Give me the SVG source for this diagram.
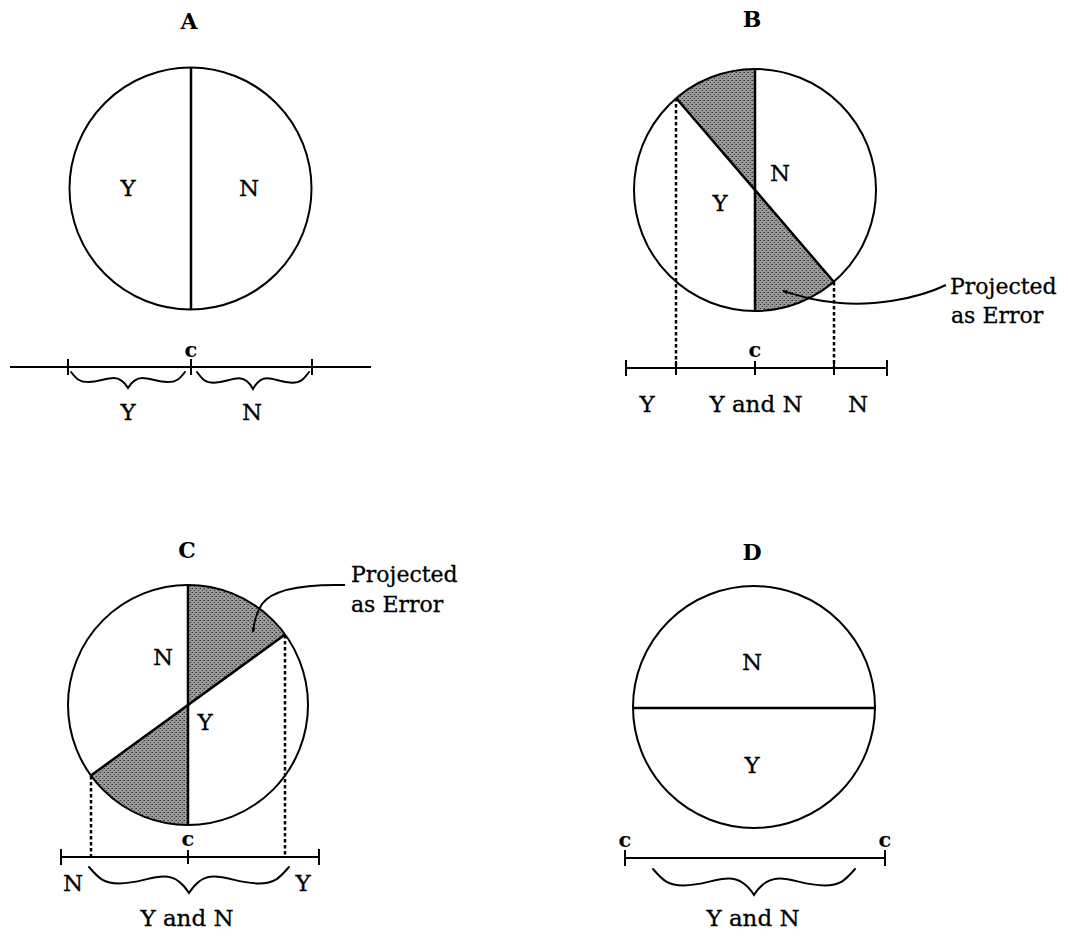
<svg xmlns="http://www.w3.org/2000/svg" width="1068" height="937" viewBox="0 0 1068 937">
<style>
  .ln { fill: none; stroke: #000; stroke-width: 2; }
  .div { fill: none; stroke: #000; stroke-width: 2.5; }
  .dash { fill: none; stroke: #000; stroke-width: 2.5; stroke-dasharray: 3.5 2.5; }
  .brace { fill: none; stroke: #000; stroke-width: 2; stroke-linecap: round; }
  .shade { fill: url(#stip); stroke: none; }
  .lbl { font-family: "DejaVu Serif", "Liberation Serif", serif; font-size: 23px; fill: #000; stroke: #000; stroke-width: 0.3; text-anchor: middle; }
  .ttl { font-family: "DejaVu Serif", "Liberation Serif", serif; font-size: 22px; font-weight: bold; fill: #000; text-anchor: middle; }
  .cc { font-family: "DejaVu Serif", "Liberation Serif", serif; font-size: 21px; font-weight: bold; fill: #000; text-anchor: middle; }
  .call { font-family: "DejaVu Serif", "Liberation Serif", serif; font-size: 22px; fill: #000; stroke: #000; stroke-width: 0.3; text-anchor: start; }
</style>
<defs>
  <pattern id="stip" width="4" height="4" patternUnits="userSpaceOnUse">
    <rect width="4" height="4" fill="#9a9a9a"/>
    <rect x="0" y="0" width="1" height="1" fill="#333"/>
    <rect x="2" y="2" width="1" height="1" fill="#333"/>
    <rect x="3" y="0" width="1" height="1" fill="#666"/>
  </pattern>
  <marker id="arr" viewBox="0 0 10 10" refX="9" refY="5" markerWidth="8" markerHeight="5" markerUnits="userSpaceOnUse" orient="auto">
    <path d="M0,1 L10,5 L0,9 Z" fill="#000"/>
  </marker>
</defs>
<rect width="1068" height="937" fill="#fff"/>

<g id="panel-A">
  <text class="ttl" x="189" y="29">A</text>
  <circle class="ln" cx="190.5" cy="188.5" r="121"/>
  <line class="div" x1="191" y1="67.5" x2="191" y2="309.5"/>
  <text class="lbl" x="128" y="196">Y</text>
  <text class="lbl" x="249" y="196">N</text>
  <line class="ln" x1="10" y1="367" x2="371" y2="367"/>
  <line class="ln" x1="68" y1="359" x2="68" y2="375"/>
  <line class="ln" x1="191" y1="359" x2="191" y2="375"/>
  <line class="ln" x1="312" y1="359" x2="312" y2="375"/>
  <text class="cc" x="191" y="357">c</text>
  <path class="brace" d="M71,372 C76.7,379.2 79.6,382.1 88.1,382.1 C99.5,382.1 105.2,377.9 113.8,377.9 C121.2,377.9 125.2,383.2 128,388 C130.8,383.2 134.8,377.9 142.3,377.9 C150.8,377.9 156.5,382.1 167.9,382.1 C176.5,382.1 179.3,379.2 185,372"/>
  <path class="brace" d="M197,372 C202.6,379.7 205.4,382.7 213.8,382.7 C225,382.7 230.6,378.3 239,378.3 C246.3,378.3 250.2,383.9 253,389 C255.8,383.9 259.7,378.3 267,378.3 C275.4,378.3 281,382.7 292.2,382.7 C300.6,382.7 303.4,379.7 309,372"/>
  <text class="lbl" x="128" y="420">Y</text>
  <text class="lbl" x="252" y="420">N</text>
</g>

<g id="panel-B">
  <text class="ttl" x="752" y="27">B</text>
  <path class="shade" d="M755,190 L676.3,98.2 A121,121 0 0,1 755,69 Z"/>
  <path class="shade" d="M755,190 L755,311 A121,121 0 0,0 833.7,281.8 Z"/>
  <circle class="ln" cx="755" cy="190" r="121"/>
  <line class="div" x1="755" y1="69" x2="755" y2="311"/>
  <line class="div" x1="676.3" y1="98.2" x2="833.7" y2="281.8"/>
  <text class="lbl" x="780" y="181">N</text>
  <text class="lbl" x="720" y="211">Y</text>
  <line class="ln" x1="626" y1="368" x2="887" y2="368"/>
  <line class="ln" x1="626" y1="360" x2="626" y2="376"/>
  <line class="ln" x1="676" y1="361" x2="676" y2="375"/>
  <line class="ln" x1="755" y1="361" x2="755" y2="375"/>
  <line class="ln" x1="834" y1="361" x2="834" y2="375"/>
  <line class="ln" x1="887" y1="360" x2="887" y2="376"/>
  <text class="cc" x="755" y="357">c</text>
  <text class="lbl" x="647" y="412">Y</text>
  <text class="lbl" x="756" y="412">Y and N</text>
  <text class="lbl" x="858" y="412">N</text>
  <text class="call" x="950" y="294">Projected</text>
  <text class="call" x="951" y="323">as Error</text>
</g>

<g id="panel-C">
  <text class="ttl" x="187" y="558">C</text>
  <path class="shade" d="M188,705 L188,585 A120,120 0 0,1 285.1,634.5 Z"/>
  <path class="shade" d="M188,705 L188,825 A120,120 0 0,1 90.9,775.5 Z"/>
  <circle class="ln" cx="188" cy="705" r="120"/>
  <line class="div" x1="188" y1="585" x2="188" y2="825"/>
  <line class="div" x1="90.9" y1="775.5" x2="285.1" y2="634.5"/>
  <text class="lbl" x="163" y="665">N</text>
  <text class="lbl" x="205" y="730">Y</text>
  <line class="ln" x1="61" y1="857" x2="319" y2="857"/>
  <line class="ln" x1="61" y1="849" x2="61" y2="865"/>
  <line class="ln" x1="188" y1="850" x2="188" y2="864"/>
  <line class="ln" x1="319" y1="849" x2="319" y2="865"/>
  <text class="cc" x="188" y="846">c</text>
  <path class="brace" d="M89,867 C99,878.7 104,883.4 119,883.4 C139,883.4 149,876.6 164,876.6 C177,876.6 184,885.2 189,893 C194,885.2 201,876.6 214,876.6 C229,876.6 239,883.4 259,883.4 C274,883.4 279,878.7 289,867"/>
  <text class="lbl" x="73" y="891">N</text>
  <text class="lbl" x="303" y="891">Y</text>
  <text class="lbl" x="187" y="926">Y and N</text>
  <text class="call" x="351" y="582">Projected</text>
  <text class="call" x="351" y="612">as Error</text>
</g>

<g id="panel-D">
  <text class="ttl" x="752" y="560">D</text>
  <circle class="ln" cx="754" cy="707" r="121"/>
  <line class="div" x1="633" y1="708" x2="875" y2="708"/>
  <text class="lbl" x="752" y="670">N</text>
  <text class="lbl" x="752" y="773">Y</text>
  <line class="ln" x1="625" y1="858" x2="885" y2="858"/>
  <line class="ln" x1="625" y1="850" x2="625" y2="866"/>
  <line class="ln" x1="885" y1="850" x2="885" y2="866"/>
  <text class="cc" x="625" y="847">c</text>
  <text class="cc" x="885" y="847">c</text>
  <path class="brace" d="M653,869 C663.1,880.7 668.2,885.4 683.3,885.4 C703.5,885.4 713.6,878.6 728.8,878.6 C741.9,878.6 749,887.2 754,895 C759,887.2 766.1,878.6 779.3,878.6 C794.4,878.6 804.4,885.4 824.7,885.4 C839.9,885.4 844.9,880.7 855,869"/>
  <text class="lbl" x="753" y="926">Y and N</text>
</g>

<g id="connectors">
  <line class="dash" x1="676" y1="98" x2="676" y2="368"/>
  <line class="dash" x1="834" y1="282" x2="834" y2="368"/>
  <line class="dash" x1="91" y1="776" x2="91" y2="857"/>
  <line class="dash" x1="285" y1="635" x2="285" y2="857"/>
  <path class="ln" d="M946,285 C915,300 870,306 840,303 C815,301 800,296 783,291" marker-end="url(#arr)"/>
  <path class="ln" d="M345,585 C300,584 272,590 262,604 C256,613 254,622 253,632" marker-end="url(#arr)"/>
</g>
</svg>
